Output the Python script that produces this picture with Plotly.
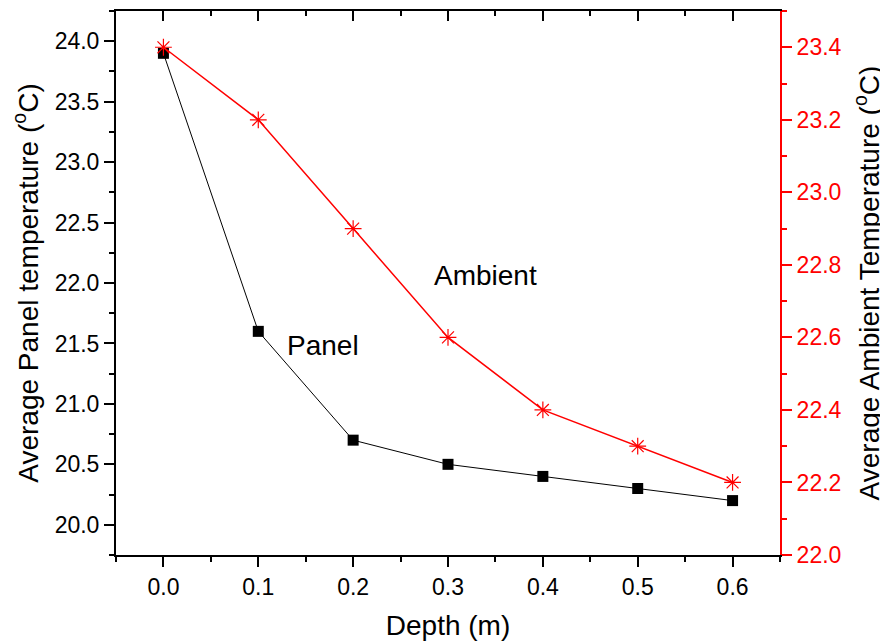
import plotly.graph_objects as go

depth = [0.0, 0.1, 0.2, 0.3, 0.4, 0.5, 0.6]
panel_temp = [23.9, 21.6, 20.7, 20.5, 20.4, 20.3, 20.2]
ambient_temp = [23.4, 23.2, 22.9, 22.6, 22.4, 22.3, 22.2]

FONT = "Liberation Sans, Arial, sans-serif"
TICK = 23
TITLE = 28

fig = go.Figure()
fig.add_trace(go.Scatter(
    x=depth, y=panel_temp, mode="lines+markers", name="Panel",
    line=dict(color="black", width=1),
    marker=dict(symbol="square", size=11, color="black"),
    showlegend=False))
fig.add_trace(go.Scatter(
    x=depth, y=ambient_temp, mode="lines+markers", name="Ambient",
    yaxis="y2",
    line=dict(color="red", width=1.5),
    marker=dict(symbol="asterisk-open", size=14, color="red",
                line=dict(color="red", width=1.2)),
    showlegend=False))
# invisible trace to activate top mirror axis
fig.add_trace(go.Scatter(
    x=depth, y=panel_temp, xaxis="x2", mode="lines",
    line=dict(color="rgba(0,0,0,0)", width=0), hoverinfo="skip",
    showlegend=False))

fig.add_annotation(x=0.34, y=22.06, text="Ambient", showarrow=False,
                   font=dict(family=FONT, size=TITLE, color="black"))
fig.add_annotation(x=0.168, y=21.48, text="Panel", showarrow=False,
                   font=dict(family=FONT, size=TITLE, color="black"))

fig.update_layout(
    width=880, height=635,
    margin=dict(l=108, r=108, t=3, b=88, autoexpand=False),
    paper_bgcolor="white", plot_bgcolor="white",
    font=dict(family=FONT, color="black"),
    xaxis=dict(
        automargin=False,
        range=[-0.05, 0.65], tick0=0, dtick=0.1, tickformat=".1f",
        showgrid=False, zeroline=False,
        showline=True, linecolor="black", linewidth=2,
        ticks="outside", ticklen=10, tickwidth=2, tickcolor="black",
        tickfont=dict(family=FONT, size=TICK, color="black"),
        minor=dict(dtick=0.05, ticks="outside", ticklen=5, tickwidth=2,
                   tickcolor="black", showgrid=False),
        title=dict(text="Depth (m)", font=dict(family=FONT, size=TITLE),
                   standoff=17),
    ),
    xaxis2=dict(
        automargin=False,
        overlaying="x", side="top", anchor="y",
        range=[-0.05, 0.65], tick0=0, dtick=0.1,
        showgrid=False, zeroline=False, showticklabels=False,
        showline=True, linecolor="black", linewidth=2,
        ticks="inside", ticklen=10, tickwidth=2, tickcolor="black",
        minor=dict(dtick=0.05, ticks="inside", ticklen=5, tickwidth=2,
                   tickcolor="black", showgrid=False),
    ),
    yaxis=dict(
        automargin=False,
        range=[19.75, 24.25], tick0=20, dtick=0.5, tickformat=".1f",
        showgrid=False, zeroline=False,
        showline=True, linecolor="black", linewidth=2,
        ticks="outside", ticklen=10, tickwidth=2, tickcolor="black",
        tickfont=dict(family=FONT, size=TICK, color="black"),
        minor=dict(dtick=0.25, ticks="outside", ticklen=5, tickwidth=2,
                   tickcolor="black", showgrid=False),
        title=dict(text="Average Panel temperature (<sup>o</sup>C)",
                   font=dict(family=FONT, size=TITLE), standoff=16),
    ),
    yaxis2=dict(
        automargin=False,
        overlaying="y", side="right", anchor="x",
        range=[22.0, 23.5], tick0=22.0, dtick=0.2, tickformat=".1f",
        showgrid=False, zeroline=False,
        showline=True, linecolor="red", linewidth=2,
        ticks="outside", ticklen=10, tickwidth=2, tickcolor="red",
        tickfont=dict(family=FONT, size=TICK, color="red"),
        minor=dict(dtick=0.1, ticks="outside", ticklen=5, tickwidth=2,
                   tickcolor="red", showgrid=False),
        title=dict(text="Average Ambient Temperature (<sup>o</sup>C)",
                   font=dict(family=FONT, size=TITLE, color="black"),
                   standoff=19),
    ),
)

fig.write_html("out.html")
